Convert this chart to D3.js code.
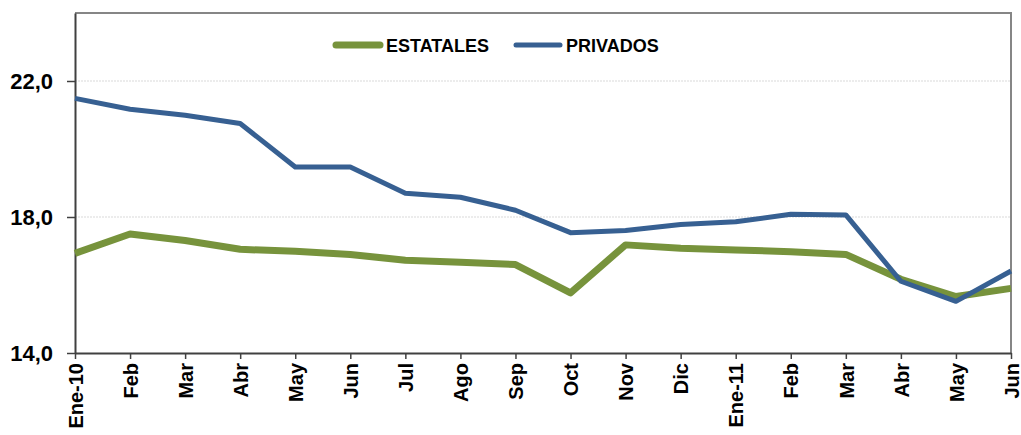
<!DOCTYPE html>
<html>
<head>
<meta charset="utf-8">
<script src="https://cdn.jsdelivr.net/npm/d3@7"></script>
<style>
  html, body { margin: 0; padding: 0; background: #fff; }
  svg { display: block; }
  text { font-family: "Liberation Sans", Arial, sans-serif; font-weight: bold; fill: #000; }
</style>
</head>
<body>
<svg id="chart" width="1021" height="435"></svg>
<script>
// Month labels along the x axis
const months = ["Ene-10","Feb","Mar","Abr","May","Jun","Jul","Ago","Sep","Oct","Nov","Dic",
                "Ene-11","Feb","Mar","Abr","May","Jun"];

// Series values
const estatales = [16.93, 17.50, 17.31, 17.05, 16.99, 16.90, 16.73, 16.67, 16.60, 15.77,
                   17.18, 17.08, 17.03, 16.98, 16.90, 16.17, 15.66, 15.90];
const privados  = [21.49, 21.17, 20.99, 20.75, 19.47, 19.47, 18.70, 18.58, 18.20, 17.54,
                   17.60, 17.78, 17.86, 18.08, 18.06, 16.11, 15.52, 16.41];

// Y axis ticks
const yTicks = [14, 18, 22];

const seriesList = [
  { name: "ESTATALES", values: estatales, color: "#77933c", width: 7 },
  { name: "PRIVADOS",  values: privados,  color: "#376092", width: 5 }
];

const svg = d3.select("#chart");
const plot = { left: 75, right: 1011, top: 13, bottom: 353 };

const x = d3.scalePoint()
  .domain(d3.range(months.length))
  .range([plot.left, plot.right]);

const y = d3.scaleLinear()
  .domain([14, 24])
  .range([plot.bottom, plot.top]);

// Light dotted gridlines
svg.append("g")
  .selectAll("line")
  .data(yTicks.filter(t => t > 14))
  .join("line")
  .attr("x1", plot.left).attr("x2", plot.right)
  .attr("y1", d => y(d)).attr("y2", d => y(d))
  .attr("stroke", "#d9d9d9")
  .attr("stroke-width", 1)
  .attr("stroke-dasharray", "2,1");

// Frame on top and right
svg.append("path")
  .attr("d", `M${plot.left},${plot.top}H${plot.right}V${plot.bottom}`)
  .attr("fill", "none")
  .attr("stroke", "#868686")
  .attr("stroke-width", 2);

// Y axis
const yAxis = svg.append("g")
  .attr("transform", `translate(${plot.left},0)`)
  .call(d3.axisLeft(y)
    .tickValues(yTicks)
    .tickSize(8)
    .tickSizeOuter(0)
    .tickPadding(14)
    .tickFormat(d => d3.format(".1f")(d).replace(".", ",")));
yAxis.select(".domain").attr("stroke", "#404040").attr("stroke-width", 2);
yAxis.selectAll(".tick line").attr("stroke", "#404040").attr("stroke-width", 1.5);
yAxis.selectAll(".tick text")
  .style("font-size", "22px")
  .style("font-family", "'Liberation Sans', Arial, sans-serif")
  .style("font-weight", "bold")
  .attr("fill", "#000");

// X axis
const xAxis = svg.append("g")
  .attr("transform", `translate(0,${plot.bottom})`)
  .call(d3.axisBottom(x)
    .tickSize(6)
    .tickSizeOuter(0)
    .tickFormat(i => months[i]));
xAxis.select(".domain").attr("stroke", "#404040").attr("stroke-width", 2);
xAxis.selectAll(".tick line").attr("stroke", "#404040").attr("stroke-width", 1.5);
xAxis.selectAll(".tick text")
  .style("font-size", "20px")
  .style("font-family", "'Liberation Sans', Arial, sans-serif")
  .style("font-weight", "bold")
  .attr("fill", "#000")
  .attr("text-anchor", "end")
  .attr("transform", "rotate(-90)")
  .attr("x", -10)
  .attr("y", 0)
  .attr("dy", "0.36em");

// Series lines
const line = d3.line()
  .x((d, i) => x(i))
  .y(d => y(d));

svg.append("g")
  .selectAll("path")
  .data(seriesList)
  .join("path")
  .attr("d", d => line(d.values))
  .attr("fill", "none")
  .attr("stroke", d => d.color)
  .attr("stroke-width", d => d.width)
  .attr("stroke-linejoin", "round");

// Legend
const legendItems = [
  { s: seriesList[0], x: 333 },
  { s: seriesList[1], x: 513 }
];
const lg = svg.append("g");
legendItems.forEach(item => {
  lg.append("line")
    .attr("x1", item.x + 3).attr("x2", item.x + 47)
    .attr("y1", 45).attr("y2", 45)
    .attr("stroke", item.s.color)
    .attr("stroke-width", item.s.width)
    .attr("stroke-linecap", "round");
  lg.append("text")
    .attr("x", item.x + 53)
    .attr("y", 51.5)
    .style("font-size", "18px")
    .text(item.s.name);
});
</script>
</body>
</html>
